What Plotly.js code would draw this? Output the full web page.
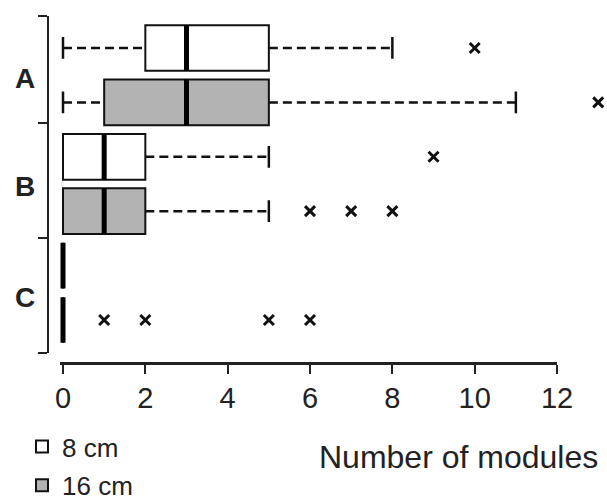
<!DOCTYPE html>
<html>
<head>
<meta charset="utf-8">
<script src="https://cdn.plot.ly/plotly-3.0.1.min.js"></script>
<style>html,body{margin:0;padding:0;background:#fff;}#chart{width:607px;height:502px;}</style>
</head>
<body>
<div id="chart"></div>
<script>
// ---- data ----
const groups = ['A', 'B', 'C'];
const seriesNames = ['8 cm', '16 cm'];
const seriesColors = ['#ffffff', '#b3b3b3'];

const q1_8 = [2, 0, 0];
const median_8 = [3, 1, 0];
const q3_8 = [5, 2, 0];
const lowerWhisker_8 = [0, 0, 0];
const upperWhisker_8 = [8, 5, 0];
const outliers_8 = [[10], [9], []];

const q1_16 = [1, 0, 0];
const median_16 = [3, 1, 0];
const q3_16 = [5, 2, 0];
const lowerWhisker_16 = [0, 0, 0];
const upperWhisker_16 = [11, 5, 0];
const outliers_16 = [[13], [6, 7, 8], [1, 2, 5, 6]];

const xTicks = [0, 2, 4, 6, 8, 10, 12];
const groupBoundaries = [-0.588, 1.38, 3.49, 5.607];

// ---- build traces ----
const stats = [
  {q1: q1_8, med: median_8, q3: q3_8, lo: lowerWhisker_8, hi: upperWhisker_8, out: outliers_8},
  {q1: q1_16, med: median_16, q3: q3_16, lo: lowerWhisker_16, hi: upperWhisker_16, out: outliers_16}
];
const BOX_HALF = 0.42, CAP_HALF = 0.2;
const pos = (g, s) => 2 * g + s;

const traces = [];
stats.forEach((st, s) => {
  traces.push({
    type: 'bar', orientation: 'h', name: seriesNames[s],
    y: groups.map((_, g) => pos(g, s)),
    base: st.q1,
    x: st.q3.map((v, i) => v - st.q1[i]),
    width: 2 * BOX_HALF,
    marker: {color: seriesColors[s], line: {color: '#111', width: 2}},
    legendgroup: 'g' + s, showlegend: true, hoverinfo: 'skip'
  });
});
const wx = [], wy = [], cx = [], cy = [], mx = [], my = [], ox = [], oy = [];
stats.forEach((st, s) => {
  groups.forEach((_, g) => {
    const p = pos(g, s);
    if (st.lo[g] < st.q1[g]) {
      wx.push(st.lo[g], st.q1[g], null); wy.push(p, p, null);
      cx.push(st.lo[g], st.lo[g], null); cy.push(p - CAP_HALF, p + CAP_HALF, null);
    }
    if (st.hi[g] > st.q3[g]) {
      wx.push(st.q3[g], st.hi[g], null); wy.push(p, p, null);
      cx.push(st.hi[g], st.hi[g], null); cy.push(p - CAP_HALF, p + CAP_HALF, null);
    }
    mx.push(st.med[g], st.med[g], null); my.push(p - BOX_HALF, p + BOX_HALF, null);
    st.out[g].forEach(v => { ox.push(v); oy.push(p); });
  });
});
traces.push({type: 'scatter', mode: 'lines', x: wx, y: wy, cliponaxis: false,
  line: {color: '#111', width: 2.5, dash: '9px,5px'}, showlegend: false, hoverinfo: 'skip'});
traces.push({type: 'scatter', mode: 'lines', x: cx, y: cy, cliponaxis: false,
  line: {color: '#111', width: 2.5}, showlegend: false, hoverinfo: 'skip'});
traces.push({type: 'scatter', mode: 'lines', x: mx, y: my, cliponaxis: false,
  line: {color: '#000', width: 5}, showlegend: false, hoverinfo: 'skip'});
traces.push({type: 'scatter', mode: 'markers', x: ox, y: oy, cliponaxis: false,
  marker: {symbol: 'x-thin', size: 10, line: {color: '#111', width: 3}},
  showlegend: false, hoverinfo: 'skip'});
// empty trace so the visible (0–12) axis gets drawn
traces.push({type: 'scatter', mode: 'markers', x: [null], y: [null], xaxis: 'x2', yaxis: 'y',
  showlegend: false, hoverinfo: 'skip'});

const W = 607, H = 502;
const PX0 = 63, PX_PER_UNIT = 41.17;             // axis geometry (pixels)
const xMin = -0.08, xMaxData = 13.2, xMaxAxis = 12;
const font = {family: 'Liberation Sans, Arial, Helvetica, sans-serif', color: '#222'};
const layout = {
  width: W, height: H,
  margin: {l: 0, r: 0, t: 0, b: 0, autoexpand: false},
  paper_bgcolor: '#fff', plot_bgcolor: 'rgba(0,0,0,0)',
  font: font,
  barmode: 'overlay',
  showlegend: true,
  legend: {
    x: 22 / W, y: 1 - 423 / H, xanchor: 'left', yanchor: 'top',
    font: {family: font.family, size: 26, color: '#222'},
    traceorder: 'grouped', tracegroupgap: 2, bgcolor: 'rgba(0,0,0,0)'
  },
  xaxis: {
    range: [xMin, xMaxData],
    domain: [(PX0 + xMin * PX_PER_UNIT) / W, (PX0 + xMaxData * PX_PER_UNIT) / W],
    visible: false, anchor: 'y'
  },
  xaxis2: {
    range: [xMin, xMaxAxis],
    domain: [(PX0 + xMin * PX_PER_UNIT) / W, (PX0 + xMaxAxis * PX_PER_UNIT) / W],
    anchor: 'free', position: 1 - 363 / H,
    tickvals: xTicks, ticktext: xTicks.map(String),
    ticks: 'outside', ticklen: 9, tickwidth: 2, tickcolor: '#222',
    showline: true, linecolor: '#222', linewidth: 2.5,
    showgrid: false, zeroline: false,
    tickfont: {family: font.family, size: 29, color: '#222'}
  },
  yaxis: {
    range: [groupBoundaries[3], groupBoundaries[0]],
    domain: [1 - 353 / H, 1 - 16 / H],
    anchor: 'free', position: 48 / W,
    tickvals: groupBoundaries, showticklabels: false,
    ticks: 'outside', ticklen: 9, tickwidth: 2, tickcolor: '#222',
    showline: true, linecolor: '#222', linewidth: 2,
    showgrid: false, zeroline: false
  },
  annotations: [
    {text: '<b>' + groups[0] + '</b>', x: 25 / W, y: 1 - 79 / H},
    {text: '<b>' + groups[1] + '</b>', x: 25 / W, y: 1 - 186 / H},
    {text: '<b>' + groups[2] + '</b>', x: 25 / W, y: 1 - 297 / H}
  ].map(a => Object.assign(a, {xref: 'paper', yref: 'paper', showarrow: false,
    xanchor: 'center', yanchor: 'middle',
    font: {family: font.family, size: 28, color: '#222'}})).concat([
    {text: 'Number of modules', xref: 'paper', yref: 'paper', x: 459 / W, y: 1 - 457 / H,
     xanchor: 'center', yanchor: 'middle', showarrow: false,
     font: {family: font.family, size: 32, color: '#222'}}
  ])
};

Plotly.newPlot('chart', traces, layout, {staticPlot: true, displayModeBar: false});
</script>
</body>
</html>
